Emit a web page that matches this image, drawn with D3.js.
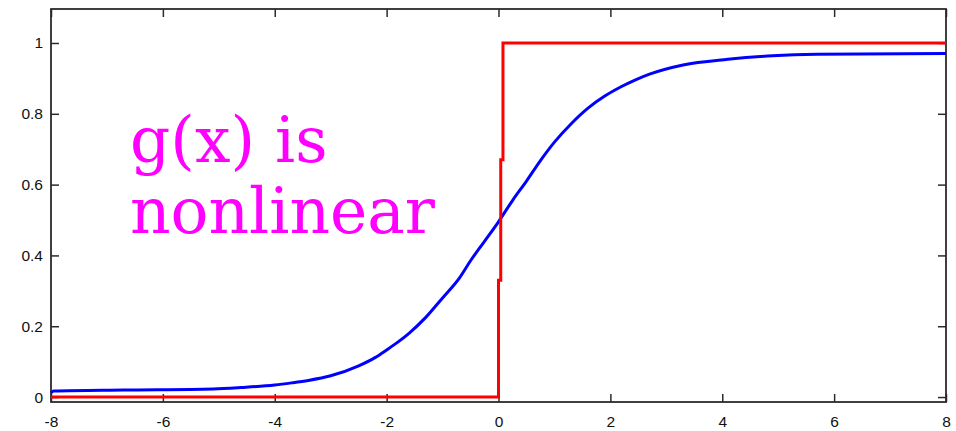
<!DOCTYPE html>
<html>
<head>
<meta charset="utf-8">
<script src="https://cdn.jsdelivr.net/npm/d3@7"></script>
<style>
  body { margin: 0; background: #fff; }
  svg { display: block; }
</style>
</head>
<body>
<div id="chart"></div>
<script>
// valores
const xTicks = [-8, -6, -4, -2, 0, 2, 4, 6, 8];
const yTicks = [0, 0.2, 0.4, 0.6, 0.8, 1];

// curva azul (sigmoide)
const blueX = [-8, -7.95, -6.7, -5.1, -4.6, -4, -3.7, -3.4, -3, -2.5, -2.2, -2, -1.8, -1.6, -1.3, -1, -0.7, -0.5, -0.25, 0, 0.25, 0.5, 0.75, 1, 1.3, 1.6, 1.9, 2.2, 2.45, 2.7, 3.3, 4.1, 4.9, 5.7, 8];
const blueY = [0.012, 0.017, 0.02, 0.023, 0.027, 0.034, 0.04, 0.047, 0.06, 0.088, 0.112, 0.133, 0.155, 0.18, 0.225, 0.28, 0.336, 0.385, 0.44, 0.495, 0.555, 0.61, 0.668, 0.72, 0.772, 0.816, 0.85, 0.877, 0.896, 0.912, 0.938, 0.954, 0.964, 0.968, 0.970];

// curva vermelha (degrau)
const redX = [-8, 0, 0, 0.04, 0.04, 0.08, 0.08, 8];
const redY = [0, 0, 0.33, 0.33, 0.67, 0.67, 1, 1];

const labelLines = ["g(x) is", "nonlinear"];

const W = 956, H = 431;
const svg = d3.select("#chart").append("svg")
    .attr("width", W)
    .attr("height", H);

// Escalas
const x = d3.scaleLinear().domain([-8, 8]).range([51, 946]);
const y = d3.scaleLinear().domain([-0.014, 1.096]).range([402, 9]);

const axisColor = "#2b2b2b";
const fmt = d => String(d);

// Eixos
const gx = svg.append("g")
    .attr("transform", `translate(0,${y.range()[0]})`)
    .call(d3.axisBottom(x).tickValues(xTicks).tickSize(-8).tickPadding(14).tickFormat(fmt));
const gy = svg.append("g")
    .attr("transform", `translate(${x.range()[0]},0)`)
    .call(d3.axisLeft(y).tickValues(yTicks).tickSize(-8).tickPadding(8).tickFormat(fmt));
const gt = svg.append("g")
    .attr("transform", `translate(0,${y.range()[1]})`)
    .call(d3.axisTop(x).tickValues(xTicks).tickSize(-8).tickFormat(""));
const gr = svg.append("g")
    .attr("transform", `translate(${x.range()[1]},0)`)
    .call(d3.axisRight(y).tickValues(yTicks).tickSize(-8).tickFormat(""));

[gx, gy, gt, gr].forEach(g => {
    g.select(".domain").remove();
    g.selectAll(".tick line").attr("stroke", axisColor).attr("stroke-width", 1.5);
    g.selectAll("text")
        .attr("fill", "#111")
        .style("font-family", "'Liberation Sans', Arial, sans-serif")
        .style("font-size", "15.5px");
});

// Caixa
svg.append("rect")
    .attr("x", x.range()[0])
    .attr("y", y.range()[1])
    .attr("width", x.range()[1] - x.range()[0])
    .attr("height", y.range()[0] - y.range()[1])
    .attr("fill", "none")
    .attr("stroke", axisColor)
    .attr("stroke-width", 1.8);

const line = d3.line()
    .x(d => x(d[0]))
    .y(d => y(d[1]));

svg.append("path")
    .datum(blueX.map((v, i) => [v, blueY[i]]))
    .attr("d", line.curve(d3.curveMonotoneX))
    .attr("fill", "none")
    .attr("stroke", "#0000ff")
    .attr("stroke-width", 3);

svg.append("path")
    .datum(redX.map((v, i) => [v, redY[i]]))
    .attr("d", line.curve(d3.curveLinear))
    .attr("fill", "none")
    .attr("stroke", "#ff0000")
    .attr("stroke-width", 3);

// Texto
svg.selectAll(".lbl")
    .data(labelLines)
    .enter()
    .append("text")
    .attr("class", "lbl")
    .attr("x", 130)
    .attr("y", (d, i) => 162 + i * 71)
    .attr("fill", "#ff00ff")
    .style("font-family", "'DejaVu Serif', serif")
    .style("font-size", "63px")
    .text(d => d);
</script>
</body>
</html>
